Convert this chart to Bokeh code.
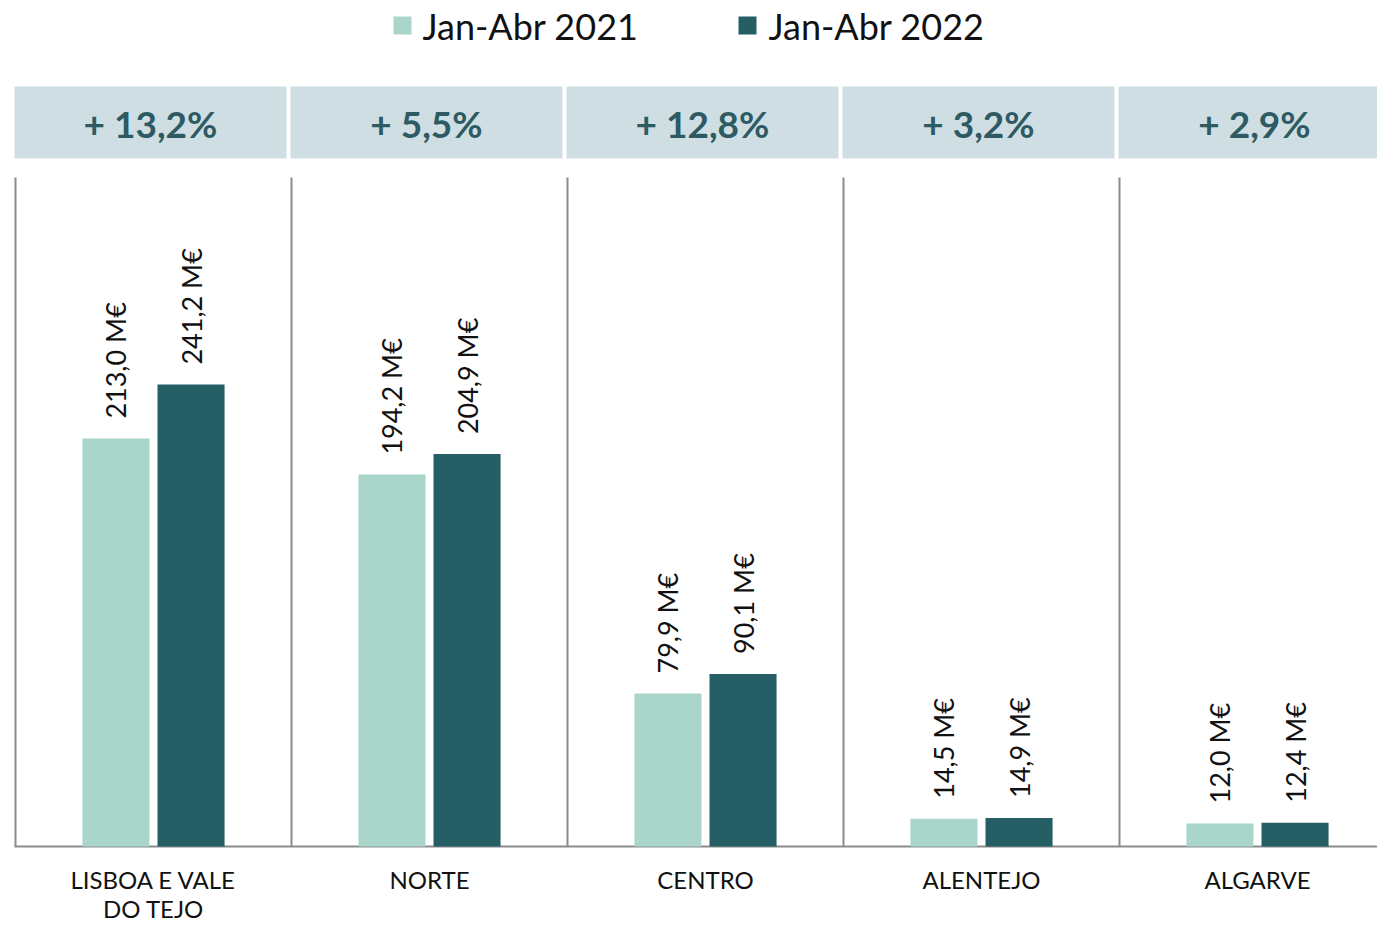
from bokeh.plotting import figure
from bokeh.models import Range1d, ColumnDataSource
from bokeh.core.properties import value
from bokeh.embed import file_html
from bokeh.resources import INLINE
import math

# ---- data ----
regions = ["LISBOA E VALE\nDO TEJO", "NORTE", "CENTRO", "ALENTEJO", "ALGARVE"]
series_names = ["Jan-Abr 2021", "Jan-Abr 2022"]
values_2021 = [213.0, 194.2, 79.9, 14.5, 12.0]
values_2022 = [241.2, 204.9, 90.1, 14.9, 12.4]
growth_labels = ["+ 13,2%", "+ 5,5%", "+ 12,8%", "+ 3,2%", "+ 2,9%"]

C_LIGHT = "#A9D5CA"
C_DARK = "#265E66"
C_HEAD = "#CFDEE3"
C_HEAD_TXT = "#2E5A64"
C_LINE = "#8C8C8C"
FONT = "Lato"

W, H = 1377, 925
PX_PER_UNIT = 1.915
BASE_PX = 846
GROUP_W = 276.0
X0_PX = 15.0

p = figure(width=W, height=H, output_backend="svg", toolbar_location=None,
           x_range=Range1d(-X0_PX / GROUP_W, (W - X0_PX) / GROUP_W),
           y_range=Range1d(-(H - BASE_PX) / PX_PER_UNIT, BASE_PX / PX_PER_UNIT),
           min_border=0, x_axis_type=None, y_axis_type=None)
p.extra_x_ranges["px"] = Range1d(0, W)
p.extra_y_ranges["px"] = Range1d(H, 0)
p.grid.visible = False
p.outline_line_color = None
p.background_fill_color = "white"
p.border_fill_color = "white"

n = len(regions)
centers = [i + 0.5 for i in range(n)]
off = 0.136
bw = 0.243

# header boxes
p.rect(x=[c - 0.011 for c in centers], y=[122] * n, width=0.9855, height=72,
       fill_color=C_HEAD, line_color=None, y_range_name="px")
p.text(x=[c - 0.011 for c in centers], y=[123] * n, text=growth_labels,
       text_font=value(FONT), text_font_style="bold", text_font_size="37px",
       text_color=C_HEAD_TXT, text_align="center", text_baseline="middle",
       y_range_name="px")

# separators
p.segment(x0=list(range(n)), y0=[177] * n, x1=list(range(n)), y1=[BASE_PX] * n,
          line_color=C_LINE, line_width=2, y_range_name="px")
# baseline
p.segment(x0=[14], y0=[BASE_PX], x1=[W], y1=[BASE_PX], line_color=C_LINE,
          line_width=2, x_range_name="px", y_range_name="px")

# bars
src = ColumnDataSource(dict(
    x1=[c - off for c in centers], x2=[c + off for c in centers],
    v1=values_2021, v2=values_2022,
    l1=[f"{v:.1f}".replace(".", ",") + " M€" for v in values_2021],
    l2=[f"{v:.1f}".replace(".", ",") + " M€" for v in values_2022],
    y1=[v + 20 / PX_PER_UNIT for v in values_2021],
    y2=[v + 20 / PX_PER_UNIT for v in values_2022],
))
p.vbar(x="x1", top="v1", bottom=0, width=bw, fill_color=C_LIGHT, line_color=None, source=src)
p.vbar(x="x2", top="v2", bottom=0, width=bw, fill_color=C_DARK, line_color=None, source=src)

for xc, yc, tc in (("x1", "y1", "l1"), ("x2", "y2", "l2")):
    p.text(x=xc, y=yc, text=tc, source=src, angle=math.pi / 2,
           text_font=value(FONT), text_font_size="27px", text_color="#111111",
           text_align="left", text_baseline="middle")

# category labels
p.text(x=centers, y=[864] * n, text=regions, text_font=value(FONT),
       text_font_size="24px", text_color="#111111", text_align="center",
       text_baseline="top", text_line_height=1.0, y_range_name="px")

# legend (manual)
leg_sq_x = [402, 747]
leg_txt_x = [422, 768]
p.rect(x=leg_sq_x, y=[25, 25], width=18, height=18, fill_color=[C_LIGHT, C_DARK],
       line_color=None, x_range_name="px", y_range_name="px")
p.text(x=leg_txt_x, y=[25, 25], text=series_names, text_font=value(FONT),
       text_font_size="36px", text_color="#111111", text_align="left",
       text_baseline="middle", x_range_name="px", y_range_name="px")

open("out.html", "w").write(file_html(p, INLINE))
